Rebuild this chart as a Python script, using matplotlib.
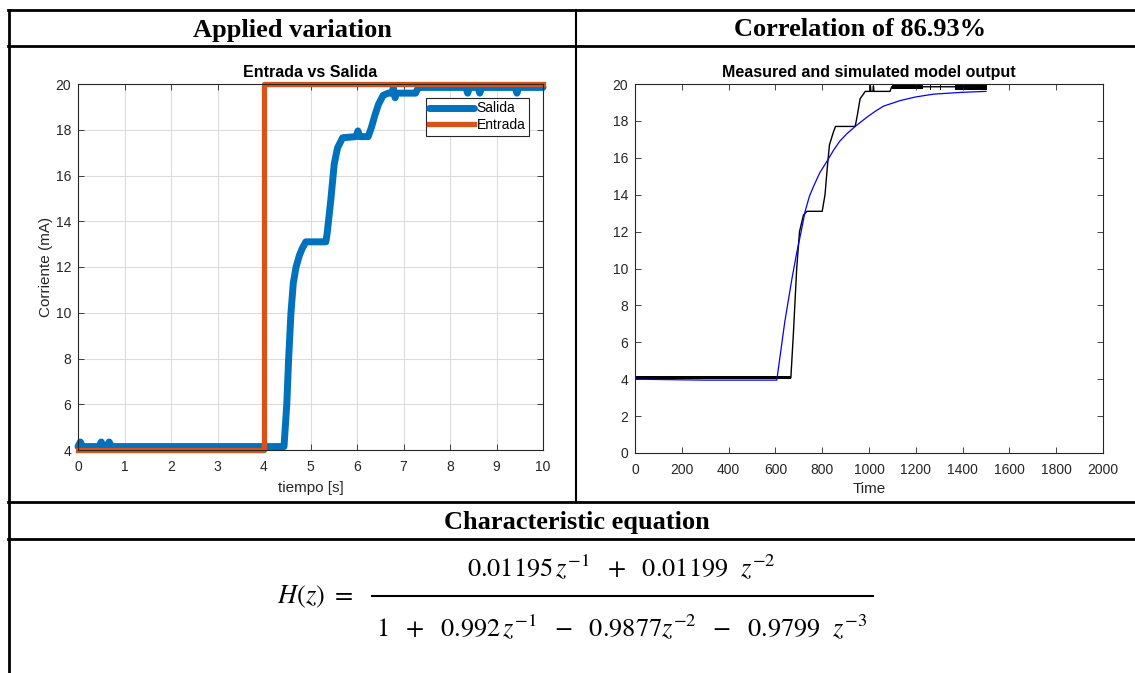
import matplotlib
matplotlib.use("Agg")
import matplotlib.pyplot as plt
from matplotlib.lines import Line2D

# valores leidos de la figura
# grafico izquierdo: entrada escalon y salida medida (mA vs s)
salida_t = [0, 0.05, 0.10, 0.45, 0.50, 0.55, 0.62, 0.67, 0.72,
            4.43, 4.49, 4.53, 4.58, 4.63, 4.69, 4.76, 4.82, 4.90, 5.33,
            5.36, 5.44, 5.51, 5.58, 5.69, 5.98, 6.02, 6.06, 6.24,
            6.31, 6.38, 6.46, 6.56, 6.67, 6.76, 6.78, 6.80, 6.82, 6.84, 7.26,
            7.32, 8.34, 8.38, 8.42, 8.60, 8.64, 8.68, 9.40, 9.44, 9.48, 10]
salida_v = [4.15, 4.35, 4.15, 4.15, 4.35, 4.15, 4.15, 4.35, 4.15,
            4.15, 6.0, 8.0, 10.0, 11.3, 12.0, 12.5, 12.8, 13.1, 13.1,
            13.5, 15.0, 16.5, 17.2, 17.65, 17.7, 17.95, 17.7, 17.7,
            18.1, 18.6, 19.1, 19.5, 19.6, 19.6, 19.85, 19.6, 19.4, 19.6, 19.6,
            19.85, 19.85, 19.6, 19.85, 19.85, 19.6, 19.85, 19.85, 19.6, 19.85, 19.85]
entrada_t = [0, 4, 4, 10]
entrada_v = [4, 4, 20, 20]

# grafico derecho: salida medida vs simulada (muestras)
med_t = [0, 666, 677, 691, 703, 720, 735, 800, 812, 822, 831, 848, 857,
         941, 950, 962, 984, 1004, 1006, 1008, 1017, 1019, 1021, 1090, 1097, 1500]
med_v = [4.07, 4.07, 6.5, 10.0, 12.0, 12.9, 13.1, 13.1, 14.0, 15.5, 16.7, 17.4, 17.7,
         17.7, 18.3, 19.2, 19.6, 19.6, 19.9, 19.6, 19.6, 19.9, 19.6, 19.6, 19.85, 19.85]
ruido_t0 = [0, 1097, 1261, 1303, 1367]
ruido_t1 = [666, 1231, 1264, 1306, 1504]
ruido_lo = [4.0, 19.75, 19.7, 19.7, 19.7]
ruido_hi = [4.17, 20.0, 20.0, 20.0, 20.0]
sim_t = [0, 300, 606, 640, 670, 691, 710, 727, 745, 763, 790, 820, 848, 875,
         905, 941, 991, 1030, 1062, 1133, 1200, 1276, 1400, 1500]
sim_v = [4.0, 3.95, 3.95, 7.1, 9.4, 10.85, 12.0, 13.1, 13.9, 14.45, 15.2, 15.8, 16.4, 16.9,
         17.3, 17.7, 18.2, 18.55, 18.8, 19.1, 19.3, 19.45, 19.55, 19.6]

W, H = 1135, 673
azul = "#0072BD"
naranja = "#D95319"
gris = "#262626"

plt.rcParams["font.family"] = ["Liberation Sans", "DejaVu Sans"]
plt.rcParams["mathtext.fontset"] = "stix"

fig = plt.figure(figsize=(W / 100, H / 100), dpi=100)


def caja(x0, y0, x1, y1):
    return [x0 / W, 1 - y1 / H, (x1 - x0) / W, (y1 - y0) / H]


def estilo(ax):
    ax.tick_params(direction="in", top=True, right=True, length=4,
                   labelsize=10, colors=gris, width=0.6, pad=5)
    ax.tick_params(axis="x", pad=7)
    for s in ax.spines.values():
        s.set_color(gris)
        s.set_linewidth(0.8)


def linea(x0, y0, x1, y1, lw=2.0):
    fig.add_artist(Line2D([x0 / W, x1 / W], [1 - y0 / H, 1 - y1 / H],
                          color="black", lw=lw, transform=fig.transFigure))


# tabla
linea(8, 10, W, 10)
linea(8, 46, W, 46)
linea(8, 502, W, 502)
linea(8, 539, W, 539)
linea(9, 10, 9, H)
linea(576, 10, 576, 502, 1.5)

serif = ["Liberation Serif", "DejaVu Serif"]
fig.text(292 / W, 1 - 30 / H, "Applied variation", ha="center", va="center",
         family=serif, weight="bold", fontsize=19)
fig.text(860 / W, 1 - 30 / H, "Correlation of 86.93%", ha="center", va="center",
         family=serif, weight="bold", fontsize=19)
fig.text(577 / W, 1 - 522 / H, "Characteristic equation", ha="center", va="center",
         family=serif, weight="bold", fontsize=19)

# grafico izquierdo
ax1 = fig.add_axes(caja(78, 84, 543, 450))
ax1.plot(salida_t, salida_v, color=azul, lw=5, label="Salida", clip_on=False,
         solid_joinstyle="round", solid_capstyle="round")
ax1.plot(entrada_t, entrada_v, color=naranja, lw=3.8, label="Entrada", clip_on=False)
ax1.set_xlim(0, 10)
ax1.set_ylim(4, 20)
ax1.set_xticks(range(0, 11))
ax1.set_yticks(range(4, 21, 2))
ax1.grid(True, color="#dcdcdc", lw=0.8)
ax1.set_axisbelow(True)
estilo(ax1)
ax1.set_title("Entrada vs Salida", fontsize=11.5, fontweight="bold", pad=5)
ax1.set_xlabel("tiempo [s]", fontsize=11, color=gris, labelpad=5)
ax1.set_ylabel("Corriente (mA)", fontsize=11, color=gris, labelpad=2)
leg = ax1.legend(loc="upper right", bbox_to_anchor=(1 - 14 / 465, 1 - 14 / 366),
                 borderaxespad=0, fontsize=10, fancybox=False, framealpha=1,
                 edgecolor=gris, handlelength=3.2, handletextpad=0.2,
                 borderpad=0.25, labelspacing=0.2)
leg.get_frame().set_linewidth(0.8)

# grafico derecho
ax2 = fig.add_axes(caja(635, 84, 1103, 453))
for t0, t1, lo, hi in zip(ruido_t0, ruido_t1, ruido_lo, ruido_hi):
    ax2.fill_between([t0, t1], lo, hi, color="black", lw=0)
ax2.plot(med_t, med_v, color="black", lw=1)
ax2.plot(sim_t, sim_v, color="#0000ff", lw=0.9)
ax2.set_xlim(0, 2000)
ax2.set_ylim(0, 20)
ax2.set_xticks(range(0, 2001, 200))
ax2.set_yticks(range(0, 21, 2))
estilo(ax2)
ax2.set_title("Measured and simulated model output", fontsize=11.5,
              fontweight="bold", pad=5)
ax2.set_xlabel("Time", fontsize=11, color=gris, labelpad=4)

# ecuacion caracteristica
fs_eq = 19
fig.text(277 / W, 1 - 597 / H, r"$H(z)\ =$", ha="left", va="center", fontsize=fs_eq)
fig.text(621 / W, 1 - 567 / H,
         r"$0.01195\,z^{-1}\ \ +\ \ 0.01199\ \ z^{-2}$",
         ha="center", va="center", fontsize=fs_eq)
linea(372, 596, 873, 596, 1.5)
fig.text(622 / W, 1 - 627 / H,
         r"$1\ \ +\ \ 0.992\,z^{-1}\ \ -\ \ 0.9877z^{-2}\ \ -\ \ 0.9799\ \ z^{-3}$",
         ha="center", va="center", fontsize=fs_eq)

fig.savefig("out.png", dpi=100)
